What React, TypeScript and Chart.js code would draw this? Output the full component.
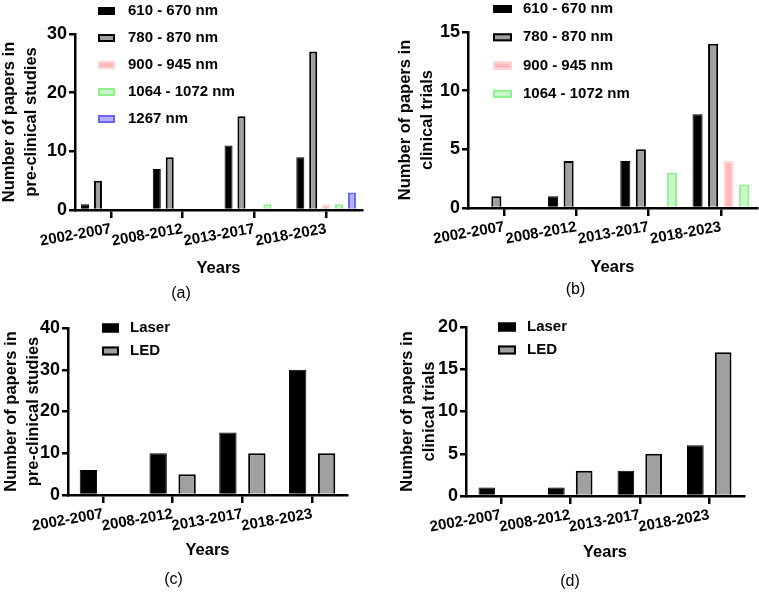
import React, { useEffect, useRef } from "react";
import { Chart, registerables } from "chart.js";

Chart.register(...registerables);

// ---------- data ----------
const YEARS = ["2002-2007", "2008-2012", "2013-2017", "2018-2023"];

const WAVELENGTHS = ["610 - 670 nm", "780 - 870 nm", "900 - 945 nm", "1064 - 1072 nm", "1267 nm"];
const A_610 = [1, 7, 11, 9];
const A_780 = [5, 9, 16, 27];
const A_900 = [0, 0, 0, 1];
const A_1064 = [0, 0, 1, 1];
const A_1267 = [0, 0, 0, 3];

const B_610 = [0, 1, 4, 8];
const B_780 = [1, 4, 5, 14];
const B_900 = [0, 0, 0, 4];
const B_1064 = [0, 0, 3, 2];

const SOURCES = ["Laser", "LED"];
const C_LASER = [6, 10, 15, 30];
const C_LED = [0, 5, 10, 10];
const D_LASER = [1, 1, 3, 6];
const D_LED = [0, 3, 5, 17];

const Y_MAX = [30, 15, 40, 20];
const Y_STEP = [10, 5, 10, 5];
const Y_TITLE_PRE = ["Number of papers in", "pre-clinical studies"];
const Y_TITLE_CLIN = ["Number of papers in", "clinical trials"];
const X_TITLE = "Years";
const CAPTIONS = ["(a)", "(b)", "(c)", "(d)"];

// ---------- styles ----------
const FAMILY = "'Liberation Sans', Arial, Helvetica, sans-serif";
const AXIS_W = 2.5;
const S_BLACK = { backgroundColor: "#000000", borderColor: "#000000", borderWidth: 1 };
const S_GRAY = { backgroundColor: "#a0a0a0", borderColor: "#000000", borderWidth: 2 };
const S_PINK = { backgroundColor: "#ffb9b9", borderColor: "#ffd6d6", borderWidth: 2 };
const S_GREEN = { backgroundColor: "#c9f7c9", borderColor: "#8ef08e", borderWidth: 2 };
const S_BLUE = { backgroundColor: "#b0b0ff", borderColor: "#6666ff", borderWidth: 2 };

const boxLegend = {
  id: "boxLegend",
  afterDraw(chart: any, _args: any, opts: any) {
    const { ctx } = chart;
    ctx.save();
    chart.data.datasets.forEach((ds: any, i: number) => {
      const cy = opts.y + i * opts.gap;
      const top = cy - opts.boxH / 2;
      ctx.fillStyle = ds.backgroundColor;
      ctx.fillRect(opts.x, top, opts.boxW, opts.boxH);
      const lw = ds.borderWidth || 0;
      if (lw) {
        ctx.lineWidth = lw;
        ctx.strokeStyle = ds.borderColor;
        ctx.strokeRect(opts.x + lw / 2, top + lw / 2, opts.boxW - lw, opts.boxH - lw);
      }
      ctx.fillStyle = "#000";
      ctx.font = "bold 15px " + FAMILY;
      ctx.textBaseline = "middle";
      ctx.textAlign = "left";
      ctx.fillText(ds.label, opts.textX, cy);
    });
    ctx.restore();
  },
};

function makeConfig(p: any) {
  return {
    type: "bar",
    data: { labels: YEARS, datasets: p.datasets },
    options: {
      responsive: false,
      animation: false,
      layout: { padding: p.padding },
      datasets: { bar: { categoryPercentage: p.cp, barPercentage: p.bp } },
      plugins: {
        legend: { display: false },
        tooltip: { enabled: false },
        title: {
          display: true,
          text: p.caption,
          position: "bottom",
          color: "#000",
          font: { family: FAMILY, size: 16, weight: "normal", lineHeight: 1.2 },
          padding: { top: 0, bottom: 0 },
        },
        boxLegend: p.legend,
      },
      scales: {
        x: {
          offset: true,
          grid: {
            display: true,
            drawOnChartArea: false,
            drawTicks: true,
            tickLength: 8,
            offset: false,
            color: "#000",
            lineWidth: AXIS_W,
          },
          border: { display: true, color: "#000", width: AXIS_W },
          ticks: {
            autoSkip: false,
            minRotation: 10,
            maxRotation: 10,
            color: "#000",
            padding: 2,
            font: { family: FAMILY, size: 15, weight: "bold" },
          },
          title: {
            display: true,
            text: X_TITLE,
            color: "#000",
            font: { family: FAMILY, size: 16.5, weight: "bold", lineHeight: 1.2 },
            padding: { top: 0, bottom: p.xTitlePad },
          },
          afterFit: (s: any) => {
            s.height = p.xHeight;
          },
        },
        y: {
          min: 0,
          max: p.yMax,
          grid: {
            display: true,
            drawOnChartArea: false,
            drawTicks: true,
            tickLength: 6,
            color: "#000",
            lineWidth: AXIS_W,
          },
          border: { display: true, color: "#000", width: AXIS_W },
          ticks: {
            stepSize: p.yStep,
            color: "#000",
            padding: 2,
            font: { family: FAMILY, size: 18, weight: "bold" },
          },
          title: {
            display: true,
            text: p.yTitle,
            color: "#000",
            font: { family: FAMILY, size: 16.5, weight: "bold", lineHeight: 1.333 },
            padding: { top: p.yTitlePad, bottom: 0 },
          },
          afterFit: (s: any) => {
            s.width = p.yWidth;
          },
        },
      },
    },
    plugins: [boxLegend],
  };
}

function Panel({ left, top, width, height, cfg }: any) {
  const ref = useRef<HTMLCanvasElement | null>(null);
  useEffect(() => {
    const chart = new Chart(ref.current as HTMLCanvasElement, makeConfig(cfg) as any);
    return () => chart.destroy();
  }, []);
  return (
    <div style={{ position: "absolute", left, top, width, height }}>
      <canvas ref={ref} width={width} height={height} style={{ display: "block", width, height }} />
    </div>
  );
}

const cfgA = {
  datasets: [
    { label: WAVELENGTHS[0], data: A_610, ...S_BLACK },
    { label: WAVELENGTHS[1], data: A_780, ...S_GRAY },
    { label: WAVELENGTHS[2], data: A_900, ...S_PINK },
    { label: WAVELENGTHS[3], data: A_1064, ...S_GREEN },
    { label: WAVELENGTHS[4], data: A_1267, ...S_BLUE },
  ],
  caption: CAPTIONS[0],
  yMax: Y_MAX[0],
  yStep: Y_STEP[0],
  yTitle: Y_TITLE_PRE,
  padding: { left: 0, top: 34, right: 18, bottom: 2 },
  yWidth: 75,
  yTitlePad: -2,
  xHeight: 73.8,
  xTitlePad: 5.9,
  cp: 0.9,
  bp: 0.62,
  legend: { x: 98, y: 11, gap: 27, boxW: 17, boxH: 8, textX: 128 },
};

const cfgB = {
  datasets: [
    { label: WAVELENGTHS[0], data: B_610, ...S_BLACK },
    { label: WAVELENGTHS[1], data: B_780, ...S_GRAY },
    { label: WAVELENGTHS[2], data: B_900, ...S_PINK },
    { label: WAVELENGTHS[3], data: B_1064, ...S_GREEN },
  ],
  caption: CAPTIONS[1],
  yMax: Y_MAX[1],
  yStep: Y_STEP[1],
  yTitle: Y_TITLE_CLIN,
  padding: { left: 14, top: 32, right: 2, bottom: 5.4 },
  yWidth: 74,
  yTitlePad: 0,
  xHeight: 72.4,
  xTitlePad: 3.5,
  cp: 0.86,
  bp: 0.65,
  legend: { x: 113, y: 9, gap: 28.3, boxW: 19, boxH: 8, textX: 143 },
};

const cfgC = {
  datasets: [
    { label: SOURCES[0], data: C_LASER, ...S_BLACK },
    { label: SOURCES[1], data: C_LED, ...S_GRAY },
  ],
  caption: CAPTIONS[2],
  yMax: Y_MAX[2],
  yStep: Y_STEP[2],
  yTitle: Y_TITLE_PRE,
  padding: { left: 0, top: 28, right: 33, bottom: 3.4 },
  yWidth: 68,
  yTitlePad: 0,
  xHeight: 75.4,
  xTitlePad: 10.5,
  cp: 0.83,
  bp: 0.6,
  legend: { x: 102, y: 28, gap: 23, boxW: 17, boxH: 9, textX: 130 },
};

const cfgD = {
  datasets: [
    { label: SOURCES[0], data: D_LASER, ...S_BLACK },
    { label: SOURCES[1], data: D_LED, ...S_GRAY },
  ],
  caption: CAPTIONS[3],
  yMax: Y_MAX[3],
  yStep: Y_STEP[3],
  yTitle: Y_TITLE_CLIN,
  padding: { left: 16, top: 27, right: 15, bottom: 1.4 },
  yWidth: 70,
  yTitlePad: 0,
  xHeight: 76.4,
  xTitlePad: 10.5,
  cp: 0.8,
  bp: 0.6,
  legend: { x: 118, y: 27, gap: 23, boxW: 18, boxH: 9, textX: 147 },
};

export default function App() {
  return (
    <div style={{ position: "absolute", left: 0, top: 0, width: 759, height: 593, background: "#fff", overflow: "hidden" }}>
      <Panel left={0} top={0} width={380} height={305} cfg={cfgA} />
      <Panel left={380} top={0} width={379} height={305} cfg={cfgB} />
      <Panel left={0} top={300} width={380} height={293} cfg={cfgC} />
      <Panel left={380} top={300} width={379} height={293} cfg={cfgD} />
    </div>
  );
}
